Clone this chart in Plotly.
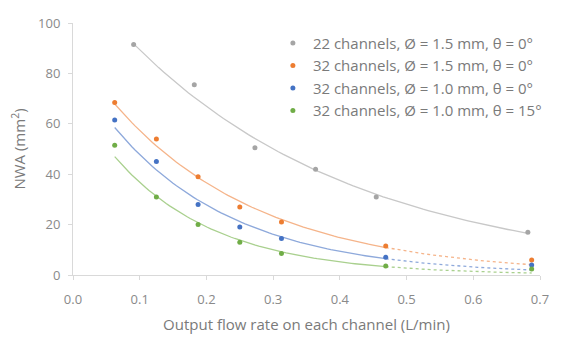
import numpy as np
import plotly.graph_objects as go

# Data
x22 = [0.0909, 0.1818, 0.2727, 0.3636, 0.4545, 0.6818]
y22 = [91.5, 75.5, 50.5, 42.0, 31.0, 17.0]
x32 = [0.0625, 0.125, 0.1875, 0.25, 0.3125, 0.46875, 0.6875]
y32_15 = [68.5, 54.0, 39.0, 27.0, 21.0, 11.5, 6.0]
y32_10 = [61.5, 45.0, 28.0, 19.0, 14.5, 7.0, 4.0]
y32_10_15 = [51.5, 31.0, 20.0, 13.0, 8.5, 3.6, 2.4]

names = ["22 channels, \u00d8 = 1.5 mm, \u03b8 = 0\u00b0",
         "32 channels, \u00d8 = 1.5 mm, \u03b8 = 0\u00b0",
         "32 channels, \u00d8 = 1.0 mm, \u03b8 = 0\u00b0",
         "32 channels, \u00d8 = 1.0 mm, \u03b8 = 15\u00b0"]
marker_colors = ["#A5A5A5", "#ED7D31", "#4472C4", "#70AD47"]
line_colors = ["#C8C8C8", "#F5B48A", "#8EA9DB", "#A9D08E"]

series = [(x22, y22), (x32, y32_15), (x32, y32_10), (x32, y32_10_15)]

FONT = "Open Sans"

fig = go.Figure()

def expfit(xs, ys):
    b, a = np.polyfit(np.array(xs), np.log(np.array(ys)), 1)
    return lambda t: np.exp(a + b * t)

for i, (xs, ys) in enumerate(series):
    if i == 0:
        f = expfit(xs, ys)
        t = np.linspace(xs[0], xs[-1], 80)
        fig.add_trace(go.Scatter(x=t, y=f(t), mode="lines", showlegend=False,
                                 line=dict(color=line_colors[i], width=1.3), hoverinfo="skip"))
    else:
        f = expfit(xs[:-1], ys[:-1])
        t = np.linspace(xs[0], xs[-2], 80)
        fig.add_trace(go.Scatter(x=t, y=f(t), mode="lines", showlegend=False,
                                 line=dict(color=line_colors[i], width=1.3), hoverinfo="skip"))
        t2 = np.linspace(xs[-2], xs[-1], 20)
        fig.add_trace(go.Scatter(x=t2, y=f(t2), mode="lines", showlegend=False,
                                 line=dict(color=line_colors[i], width=1.3, dash="dot"), hoverinfo="skip"))

for i, (xs, ys) in enumerate(series):
    fig.add_trace(go.Scatter(x=xs, y=ys, mode="markers", name=names[i],
                             marker=dict(color=marker_colors[i], size=5)))

axis_common = dict(showgrid=False, zeroline=False, showline=True, linecolor="#D9D9D9",
                   linewidth=1, ticks="outside", ticklen=4, tickcolor="#D9D9D9",
                   automargin=False,
                   tickfont=dict(family=FONT, size=13, color="#8a8a8a"))

fig.update_layout(
    width=560, height=330,
    margin=dict(l=65, r=28, t=15, b=63),
    paper_bgcolor="white", plot_bgcolor="white",
    font=dict(family=FONT, size=13, color="#7a7a7a"),
    showlegend=True,
    legend=dict(x=0.428, y=0.985, xanchor="left", yanchor="top",
                bgcolor="rgba(0,0,0,0)", font=dict(family=FONT, size=15, color="#7a7a7a"),
                itemwidth=30, tracegroupgap=0),
    xaxis=dict(range=[0, 0.7], tickvals=[0, 0.1, 0.2, 0.3, 0.4, 0.5, 0.6, 0.7],
               tickformat=".1f", ticklabelstandoff=8,
               title=dict(text="Output flow rate on each channel (L/min)",
                          font=dict(family=FONT, size=15, color="#7a7a7a"), standoff=12),
               **axis_common),
    yaxis=dict(range=[0, 100], tickvals=[0, 20, 40, 60, 80, 100], ticklabelstandoff=5,
               title=dict(text="NWA (mm<sup>2</sup>)",
                          font=dict(family=FONT, size=15, color="#7a7a7a"), standoff=14),
               **axis_common),
)

fig.write_html("out.html")
